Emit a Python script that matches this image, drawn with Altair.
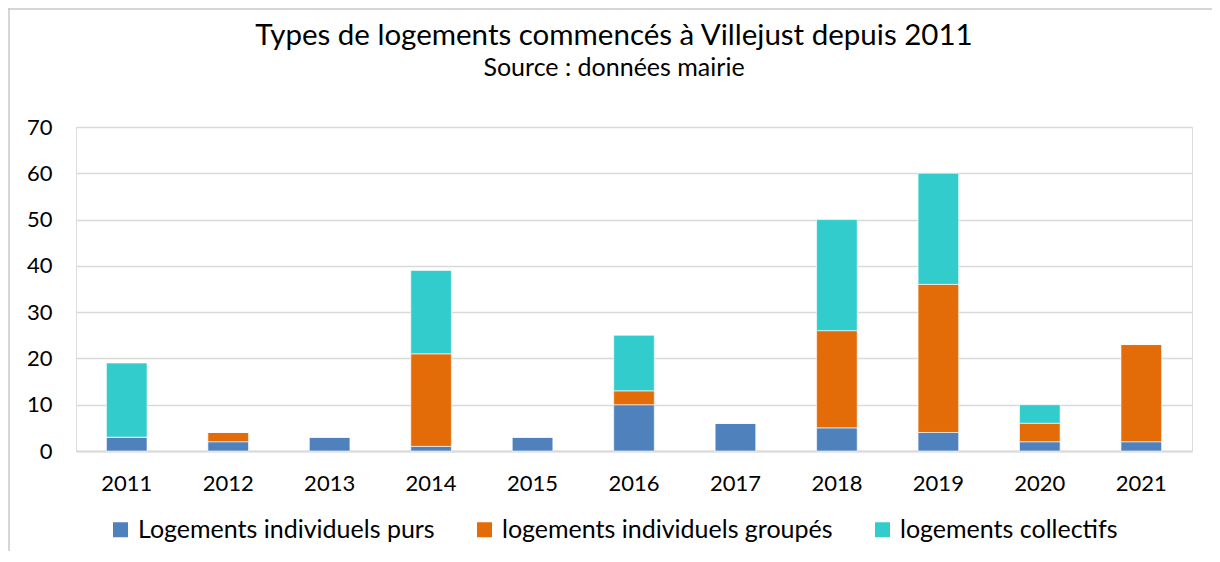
import altair as alt
import pandas as pd

years = ["2011", "2012", "2013", "2014", "2015", "2016", "2017", "2018", "2019", "2020", "2021"]
series = ["Logements individuels purs", "logements individuels groupés", "logements collectifs"]
purs = [3, 2, 3, 1, 3, 10, 6, 5, 4, 2, 2]
groupes = [0, 2, 0, 20, 0, 3, 0, 21, 32, 4, 21]
collectifs = [16, 0, 0, 18, 0, 12, 0, 24, 24, 4, 0]
colors = ["#4F81BD", "#E36C09", "#33CCCC"]

rows = []
for i, y in enumerate(years):
    for k, (s, vals) in enumerate(zip(series, [purs, groupes, collectifs])):
        rows.append({"annee": y, "type": s, "valeur": vals[i], "ordre": k})
df = pd.DataFrame(rows)

FONT = "Lato"
W, H = 1116, 324
PL, PT, PR, PB = 68, 119, 20, 100

bars = alt.Chart(df).mark_bar(stroke="white", strokeWidth=0.6).encode(
    x=alt.X("annee:N", sort=years, title=None,
            scale=alt.Scale(paddingInner=0.6, paddingOuter=0.3),
            axis=alt.Axis(labelAngle=0, labelFontSize=22, labelFont=FONT, labelColor="#000000",
                          ticks=False, domainColor="#d9d9d9", domainWidth=2, labelPadding=22)),
    y=alt.Y("valeur:Q", stack="zero", title=None,
            scale=alt.Scale(domain=[0, 70]),
            axis=alt.Axis(values=[0, 10, 20, 30, 40, 50, 60, 70], domain=False, ticks=False,
                          gridColor="#d9d9d9", gridWidth=1.5, labelFontSize=22, labelFont=FONT,
                          labelColor="#000000", labelPadding=24)),
    color=alt.Color("type:N", scale=alt.Scale(domain=series, range=colors),
                    legend=alt.Legend(title=None, orient="none", direction="horizontal",
                                      legendX=32, legendY=390, symbolType="square", symbolSize=225,
                                      symbolStrokeWidth=0, labelFontSize=25, labelFont=FONT,
                                      labelColor="#000000", columnPadding=37, labelOffset=5,
                                      labelLimit=500)),
    order=alt.Order("ordre:Q", sort="ascending"),
)

border_df = pd.DataFrame({"k": [0]})
left_border = alt.Chart(border_df).mark_rule(color="#c8c8c8", strokeWidth=1.5).encode(
    x=alt.value(-PL + 1), y=alt.value(-PT), y2=alt.value(H + PB))
top_border = alt.Chart(border_df).mark_rule(color="#c8c8c8", strokeWidth=1.5).encode(
    x=alt.value(-PL), x2=alt.value(W + PR), y=alt.value(-PT + 1))

chart = alt.layer(bars, left_border, top_border).properties(
    width=W, height=H,
    autosize=alt.AutoSizeParams(type="none"),
    padding={"left": PL, "top": PT, "right": PR, "bottom": PB},
    title=alt.TitleParams(
        text="Types de logements commencés à Villejust depuis 2011",
        subtitle="Source : données mairie",
        font=FONT, fontSize=29.5, fontWeight="normal", color="#000000",
        subtitleFont=FONT, subtitleFontSize=25, subtitleColor="#000000",
        subtitlePadding=5, anchor="middle", offset=-75, dx=-20,
    ),
).configure_view(stroke=None).configure(background="white")

chart.save("out.html", embed_options={"renderer": "svg", "actions": False})
